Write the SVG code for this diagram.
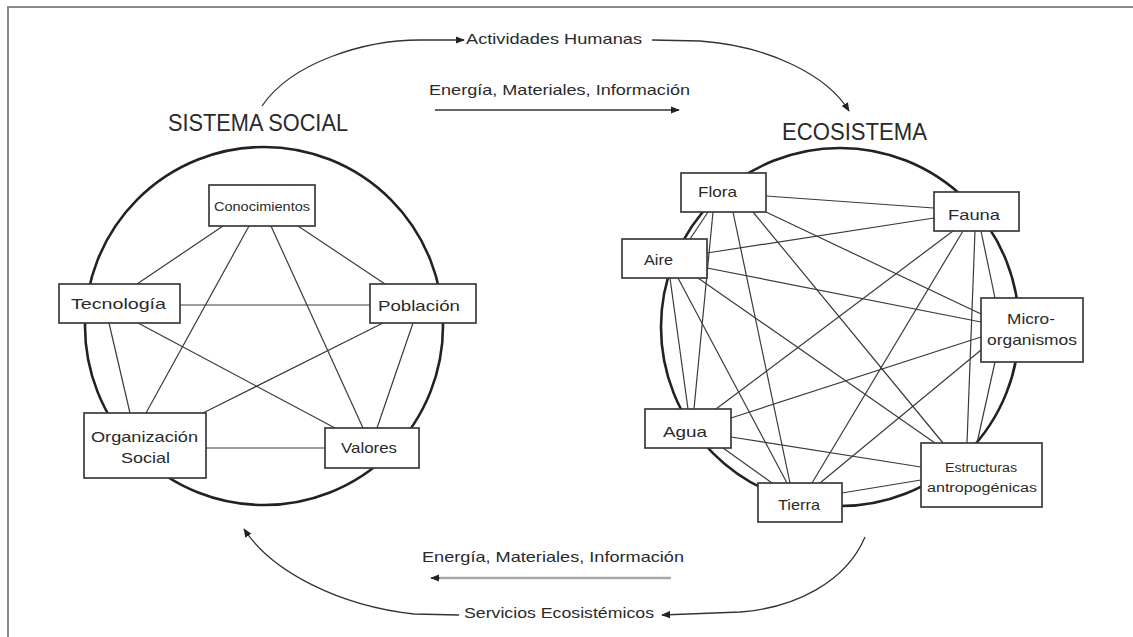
<svg xmlns="http://www.w3.org/2000/svg" width="1133" height="637" viewBox="0 0 1133 637">
  <defs>
    <style>
      .ring { fill: none; stroke: #222; stroke-width: 2.6; }
      .edge { stroke: #3a3a3a; stroke-width: 1.2; fill: none; }
      .flow { stroke: #333; stroke-width: 1.3; fill: none; }
      .box { fill: #fff; stroke: #3a3a3a; stroke-width: 1.7; }
      text { font-family: "Liberation Sans", Arial, sans-serif; fill: #2a2a2a; }
      .lbl { font-size: 15px; }
      .small { font-size: 12px; }
      .title { font-size: 24px; }
    </style>
    <marker id="head" viewBox="0 0 10 10" refX="9" refY="5" markerWidth="9" markerHeight="9" markerUnits="userSpaceOnUse" orient="auto">
      <path d="M0,1 L10,5 L0,9 Z" fill="#222"/>
    </marker>
  </defs>

  <rect width="1133" height="637" fill="#fff"/>
  <!-- frame -->
  <path d="M8,637 V7 H1133" fill="none" stroke="#8a8a8a" stroke-width="2"/>

  <!-- system boundaries -->
  <g id="rings">
    <circle class="ring" cx="264" cy="326" r="179"/>
    <circle class="ring" cx="840" cy="327" r="179"/>
  </g>

  <!-- titles and flow labels -->
  <g id="labels">
    <text class="title" x="168" y="131" textLength="180" lengthAdjust="spacingAndGlyphs">SISTEMA SOCIAL</text>
    <text class="title" x="782" y="140" textLength="145" lengthAdjust="spacingAndGlyphs">ECOSISTEMA</text>
    <text class="lbl" x="466" y="44" textLength="176" lengthAdjust="spacingAndGlyphs">Actividades Humanas</text>
    <text class="lbl" x="429" y="95" textLength="261" lengthAdjust="spacingAndGlyphs">Energía, Materiales, Información</text>
    <text class="lbl" x="422" y="562" textLength="262" lengthAdjust="spacingAndGlyphs">Energía, Materiales, Información</text>
    <text class="lbl" x="464" y="618" textLength="190" lengthAdjust="spacingAndGlyphs">Servicios Ecosistémicos</text>
  </g>

  <!-- connectors -->
  <g id="connectors">
    <!-- exchange flows between the two systems -->
    <path class="flow" d="M262,106 C292,62 365,40 420,40 L464,40" marker-end="url(#head)"/>
    <path class="flow" d="M652,40 L700,41 C770,46 828,76 849,111" marker-end="url(#head)"/>
    <line class="flow" x1="435" y1="110" x2="679" y2="110" marker-end="url(#head)"/>
    <line x1="671" y1="578" x2="440" y2="578" stroke="#a8a8a8" stroke-width="2.6"/>
    <line x1="440" y1="578" x2="431" y2="578" stroke="#222" stroke-width="1.3" marker-end="url(#head)"/>
    <path class="flow" d="M865,537 C846,582 795,608 740,612 L662,615" marker-end="url(#head)"/>
    <path class="flow" d="M459,615 L414,614 C340,606 272,572 244,529" marker-end="url(#head)"/>

    <!-- social system links -->
    <line class="edge" x1="223" y1="226" x2="137" y2="284"/>
    <line class="edge" x1="249" y1="226" x2="146" y2="413"/>
    <line class="edge" x1="271" y1="226" x2="363" y2="428"/>
    <line class="edge" x1="298" y1="226" x2="385" y2="284"/>
    <line class="edge" x1="180" y1="305" x2="370" y2="305"/>
    <line class="edge" x1="109" y1="323" x2="130" y2="413"/>
    <line class="edge" x1="138" y1="323" x2="335" y2="428"/>
    <line class="edge" x1="383" y1="323" x2="203" y2="413"/>
    <line class="edge" x1="413" y1="323" x2="377" y2="428"/>
    <line class="edge" x1="206" y1="448" x2="325" y2="448"/>

    <!-- ecosystem links -->
    <line class="edge" x1="766" y1="196" x2="934" y2="208"/>
    <line class="edge" x1="708" y1="212" x2="690" y2="239"/>
    <line class="edge" x1="766" y1="212" x2="981" y2="314"/>
    <line class="edge" x1="713" y1="212" x2="694" y2="409"/>
    <line class="edge" x1="753" y1="212" x2="943" y2="443"/>
    <line class="edge" x1="733" y1="212" x2="790" y2="483"/>
    <line class="edge" x1="934" y1="218" x2="707" y2="253"/>
    <line class="edge" x1="981" y1="231" x2="995" y2="298"/>
    <line class="edge" x1="953" y1="231" x2="716" y2="409"/>
    <line class="edge" x1="963" y1="231" x2="812" y2="483"/>
    <line class="edge" x1="975" y1="231" x2="967" y2="443"/>
    <line class="edge" x1="707" y1="268" x2="981" y2="322"/>
    <line class="edge" x1="670" y1="278" x2="688" y2="409"/>
    <line class="edge" x1="678" y1="278" x2="787" y2="483"/>
    <line class="edge" x1="698" y1="278" x2="935" y2="443"/>
    <line class="edge" x1="981" y1="337" x2="731" y2="418"/>
    <line class="edge" x1="981" y1="350" x2="820" y2="483"/>
    <line class="edge" x1="995" y1="362" x2="977" y2="443"/>
    <line class="edge" x1="731" y1="437" x2="921" y2="467"/>
    <line class="edge" x1="723" y1="448" x2="772" y2="483"/>
    <line class="edge" x1="921" y1="480" x2="842" y2="493"/>
  </g>

  <!-- social system nodes -->
  <g id="conocimientos">
    <rect class="box" x="209" y="185" width="106" height="41"/>
    <text class="small" x="214" y="211" textLength="96" lengthAdjust="spacingAndGlyphs">Conocimientos</text>
  </g>
  <g id="tecnologia">
    <rect class="box" x="59" y="284" width="121" height="39"/>
    <text class="lbl" x="71" y="309" textLength="95" lengthAdjust="spacingAndGlyphs">Tecnología</text>
  </g>
  <g id="poblacion">
    <rect class="box" x="370" y="284" width="106" height="39"/>
    <text class="lbl" x="378" y="311" textLength="82" lengthAdjust="spacingAndGlyphs">Población</text>
  </g>
  <g id="organizacion-social">
    <rect class="box" x="84" y="413" width="122" height="65"/>
    <text class="lbl" x="91" y="442" textLength="107" lengthAdjust="spacingAndGlyphs">Organización</text>
    <text class="lbl" x="121" y="463" textLength="49" lengthAdjust="spacingAndGlyphs">Social</text>
  </g>
  <g id="valores">
    <rect class="box" x="325" y="428" width="94" height="40"/>
    <text class="lbl" x="341" y="453" textLength="56" lengthAdjust="spacingAndGlyphs">Valores</text>
  </g>

  <!-- ecosystem nodes -->
  <g id="flora">
    <rect class="box" x="681" y="173" width="85" height="39"/>
    <text class="lbl" x="698" y="197" textLength="39" lengthAdjust="spacingAndGlyphs">Flora</text>
  </g>
  <g id="fauna">
    <rect class="box" x="934" y="192" width="85" height="39"/>
    <text class="lbl" x="948" y="220" textLength="52" lengthAdjust="spacingAndGlyphs">Fauna</text>
  </g>
  <g id="aire">
    <rect class="box" x="622" y="239" width="85" height="39"/>
    <text class="lbl" x="644" y="265" textLength="29" lengthAdjust="spacingAndGlyphs">Aire</text>
  </g>
  <g id="microorganismos">
    <rect class="box" x="981" y="298" width="102" height="64"/>
    <text class="lbl" x="1007" y="324" textLength="48" lengthAdjust="spacingAndGlyphs">Micro-</text>
    <text class="lbl" x="987" y="345" textLength="90" lengthAdjust="spacingAndGlyphs">organismos</text>
  </g>
  <g id="agua">
    <rect class="box" x="645" y="409" width="86" height="39"/>
    <text class="lbl" x="663" y="437" textLength="44" lengthAdjust="spacingAndGlyphs">Agua</text>
  </g>
  <g id="estructuras">
    <rect class="box" x="921" y="443" width="121" height="64"/>
    <text class="small" x="945" y="472" textLength="72" lengthAdjust="spacingAndGlyphs">Estructuras</text>
    <text class="small" x="927" y="492" textLength="110" lengthAdjust="spacingAndGlyphs">antropogénicas</text>
  </g>
  <g id="tierra">
    <rect class="box" x="758" y="483" width="84" height="39"/>
    <text class="lbl" x="778" y="510" textLength="42" lengthAdjust="spacingAndGlyphs">Tierra</text>
  </g>
</svg>
